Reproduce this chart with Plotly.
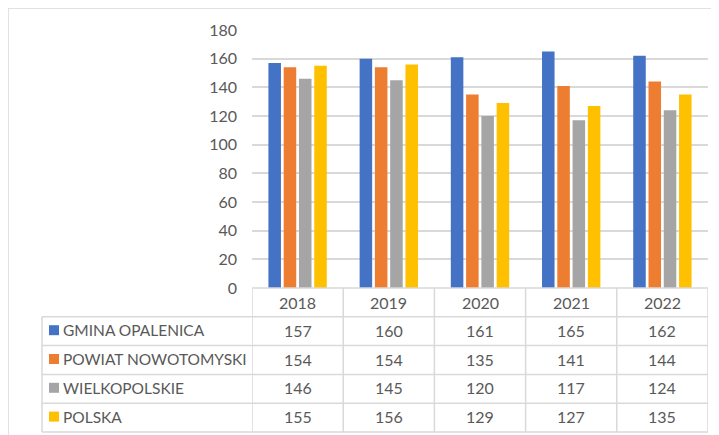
import plotly.graph_objects as go

W, H = 719, 435

years = ["2018", "2019", "2020", "2021", "2022"]
series_names = ["GMINA OPALENICA", "POWIAT NOWOTOMYSKI", "WIELKOPOLSKIE", "POLSKA"]
gmina_opalenica = [157, 160, 161, 165, 162]
powiat_nowotomyski = [154, 154, 135, 141, 144]
wielkopolskie = [146, 145, 120, 117, 124]
polska = [155, 156, 129, 127, 135]

series_values = [gmina_opalenica, powiat_nowotomyski, wielkopolskie, polska]
colors = ["#4472C4", "#ED7D31", "#A5A5A5", "#FFC000"]

text_color = "#595959"
line_color = "#D9D9D9"
font_family = "Lato, Arial, sans-serif"

# the page body adds an 8px margin, so layout positions are shifted back by it
OFF = 8


def px_x(x):
    return (x - OFF) / W


def px_y(y):
    return 1 - (y - OFF) / H


# plot area in (screen) pixels
plot_left, plot_right = 252, 708
plot_top, plot_bottom = 30, 288
row_h = 28.8
table_left = 42

fig = go.Figure()

for name, vals, col in zip(series_names, series_values, colors):
    fig.add_trace(go.Bar(x=years, y=vals, name=name, marker_color=col,
                         marker_line_width=0,
                         hovertemplate="<b>%{x}</b><br>" + name + ": %{y}<extra></extra>"))

shapes = []
annotations = []

# outer chart frame: only the top and left edges are in view
shapes.append(dict(type="line", xref="paper", yref="paper",
                   x0=px_x(8), x1=px_x(727), y0=px_y(8), y1=px_y(8),
                   line=dict(color=line_color, width=1.5)))
shapes.append(dict(type="line", xref="paper", yref="paper",
                   x0=px_x(8), x1=px_x(8), y0=px_y(8), y1=px_y(443),
                   line=dict(color=line_color, width=1.5)))

# table horizontal lines
n_rows = len(series_names)
table_bottom = plot_bottom + row_h * (n_rows + 1)
for i in range(n_rows + 2):
    y = plot_bottom + row_h * i
    x0 = plot_left if i == 0 else table_left
    shapes.append(dict(type="line", xref="paper", yref="paper",
                       x0=px_x(x0), x1=px_x(plot_right), y0=px_y(y), y1=px_y(y),
                       line=dict(color=line_color, width=1.5)))

# table vertical lines (column boundaries follow the category axis)
for i in range(len(years) + 1):
    shapes.append(dict(type="line", xref="x", yref="paper",
                       x0=i - 0.5, x1=i - 0.5,
                       y0=px_y(plot_bottom), y1=px_y(table_bottom),
                       line=dict(color=line_color, width=1.5)))
shapes.append(dict(type="line", xref="paper", yref="paper",
                   x0=px_x(table_left), x1=px_x(table_left),
                   y0=px_y(plot_bottom + row_h), y1=px_y(table_bottom),
                   line=dict(color=line_color, width=1.5)))

# header row: years
for i, yr in enumerate(years):
    annotations.append(dict(x=i, xref="x", y=px_y(plot_bottom + row_h / 2), yref="paper",
                            xanchor="center", yanchor="middle",
                            text=yr, showarrow=False, font=dict(size=16, color=text_color)))

# data rows with legend keys
for r, (name, vals, col) in enumerate(zip(series_names, series_values, colors)):
    cy = plot_bottom + row_h * (r + 1.5) - 1
    shapes.append(dict(type="rect", xref="paper", yref="paper",
                       x0=px_x(49), x1=px_x(59), y0=px_y(cy + 5), y1=px_y(cy - 5),
                       fillcolor=col, line=dict(width=0)))
    annotations.append(dict(x=px_x(61), xref="paper", y=px_y(cy), yref="paper",
                            xanchor="left", yanchor="middle", text=name, showarrow=False,
                            font=dict(size=15.5, color=text_color)))
    for i, v in enumerate(vals):
        annotations.append(dict(x=i, xref="x", y=px_y(cy), yref="paper",
                                xanchor="center", yanchor="middle",
                                text=str(v), showarrow=False,
                                font=dict(size=16, color=text_color)))

fig.update_layout(
    width=W, height=H, autosize=False,
    margin=dict(l=0, r=0, t=0, b=0, autoexpand=False),
    paper_bgcolor="white", plot_bgcolor="white",
    font=dict(family=font_family, size=16, color=text_color),
    showlegend=False,
    barmode="group", bargap=0.33, bargroupgap=0.18,
    xaxis=dict(type="category", domain=[px_x(plot_left), px_x(plot_right)], range=[-0.5, 4.5],
               showticklabels=False, showgrid=False, zeroline=False, ticks=""),
    yaxis=dict(domain=[px_y(plot_bottom), px_y(plot_top)], range=[0, 180],
               dtick=20, showgrid=True, gridcolor=line_color, gridwidth=1.5,
               zeroline=False, ticks="", ticklabelstandoff=14, automargin=False,
               tickfont=dict(size=16, color=text_color)),
    shapes=shapes,
    annotations=annotations,
)

fig.write_html("out.html")
